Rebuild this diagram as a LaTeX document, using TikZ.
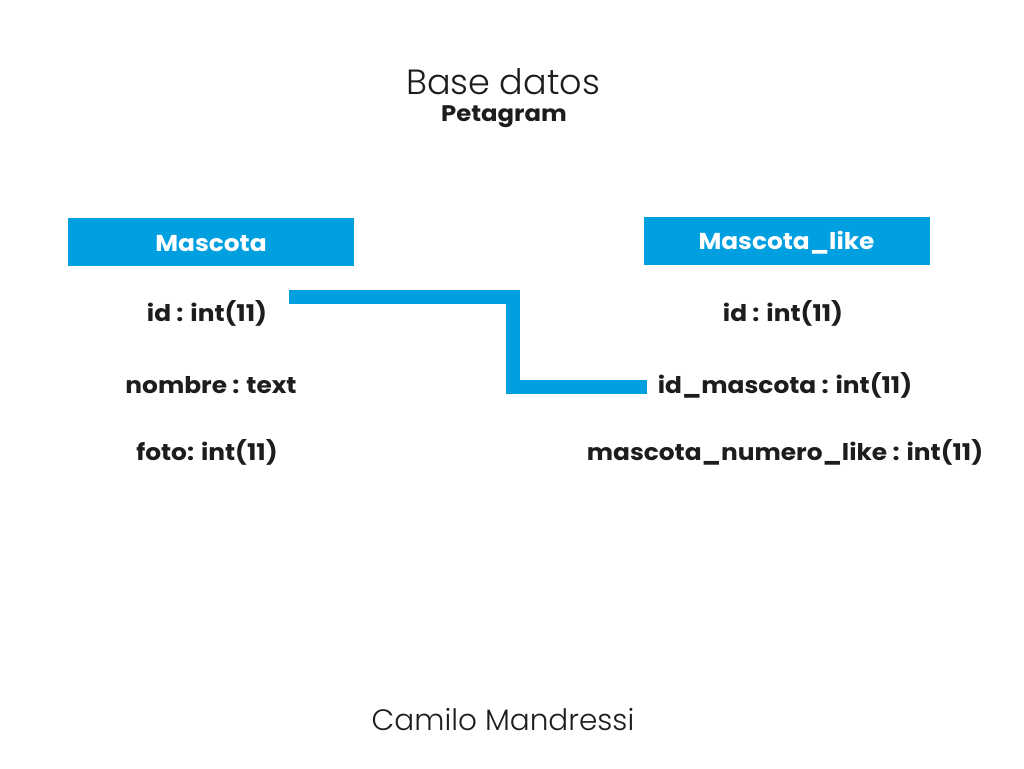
\documentclass[tikz,border=0pt]{standalone}
\usepackage{fontspec}
\setmainfont{Poppins}
\newfontfamily\wideb{Poppins}[FakeStretch=1.08]
\newfontfamily\lightf{Poppins Light}
\definecolor{tblue}{HTML}{009FE0}
\definecolor{ink}{HTML}{1D1D1B}
\newcommand{\lowr}[1]{\raisebox{-2pt}[\height][\depth]{#1}}
\begin{document}
\begin{tikzpicture}[x=1pt,y=-1pt,
  hdr/.style={fill=tblue,minimum width=286pt,minimum height=48pt,inner sep=0pt,text=white,font=\wideb\fontsize{23}{26}\selectfont\bfseries},
  fld/.style={text=ink,inner sep=0pt,font=\wideb\fontsize{23}{26}\selectfont\bfseries},
  link/.style={draw=tblue,line width=14pt}]
\useasboundingbox[fill=white] (0,0) rectangle (1024,768);
\node[text=ink,inner sep=0pt,font=\lightf\fontsize{35}{38}\selectfont] (title) at (503,82) {Base datos};
\node[text=ink,inner sep=0pt,font=\wideb\fontsize{22.5}{26}\selectfont\bfseries] (sub) at (504,117) {Petagram};
\node[hdr] (m) at (211,242) {\lowr{Mascota}};
\node[hdr] (ml) at (786.5,241) {\lowr{Mascota\_like}};
\node[fld] (mid) at (207,313) {id : int(11)};
\node[fld] (mnom) at (211,385) {nombre : text};
\node[fld] (mfoto) at (207,452) {foto: int(11)};
\node[fld] (lid) at (783,313) {id : int(11)};
\node[fld] (lidm) at (785,385) {id\_mascota : int(11)};
\node[fld] (lnum) at (785,452) {mascota\_numero\_like : int(11)};
\coordinate (a) at (289,297);
\coordinate (b) at (647,387);
\draw[link] (a) -- (513,297) -- (513,387) -- (b);
\node[text=ink,font=\lightf\fontsize{29.5}{32}\selectfont] (author) at (503,720) {Camilo Mandressi};
\end{tikzpicture}
\end{document}
